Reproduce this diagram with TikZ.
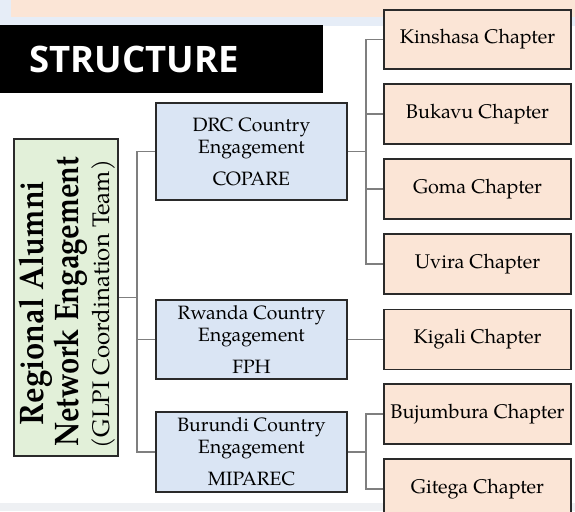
\documentclass[tikz,border=0pt]{standalone}
\usepackage{fontspec}
\setmainfont{TeX Gyre Pagella}
\newfontfamily\titlefont{Open Sans}
\definecolor{gfill}{HTML}{E2F0D9}
\definecolor{bfill}{HTML}{DAE5F4}
\definecolor{pfill}{HTML}{FBE5D6}
\definecolor{edge}{HTML}{2A2A2A}
\definecolor{conn}{HTML}{7F7F7F}
\definecolor{bandblue}{HTML}{E6EDF7}
\definecolor{bandgray}{HTML}{EEF0F3}
\tikzset{
  x=1pt, y=-1pt,
  box/.style={draw=edge, line width=1.8pt, inner sep=0pt, align=center},
  chapbox/.style={box, fill=pfill, minimum width=187pt, minimum height=60pt, font=\fontsize{19.8}{22}\selectfont},
  ctrybox/.style={box, fill=bfill, minimum width=191pt, font=\fontsize{19.3}{22}\selectfont},
  rootline/.style={rotate=90, anchor=base, inner sep=0pt},
  link/.style={draw=conn, line width=1.5pt}
}
\begin{document}
\begin{tikzpicture}
\useasboundingbox (0,0) rectangle (575,511);
\clip (0,0) rectangle (575,511);
% background bands
\fill[bandblue] (0,0) rectangle (575,26);
\fill[pfill] (11,0) rectangle (575,17);
\fill[bandgray] (0,503) rectangle (575,511);
% title
\fill[black] (0,25) rectangle (323,93);
\node[anchor=base west, inner sep=0pt, text=white, font=\titlefont\bfseries\fontsize{36.5}{40}\selectfont] (title) at (29,73) {STRUCTURE};
% root
\node[box, fill=gfill, minimum width=104pt, minimum height=317pt] (root) at (66,297.5) {};
\node[rootline, font=\bfseries\fontsize{34}{36}\selectfont] (rootA) at (43,303) {\scalebox{0.91}[1]{Regional Alumni}};
\node[rootline, font=\bfseries\fontsize{34}{36}\selectfont] (rootB) at (78,301.5) {\scalebox{0.86}[1]{Network Engagement}};
\node[rootline, font=\fontsize{24}{26}\selectfont] (rootC) at (109,304) {(GLPI Coordination Team)};
% countries
\node[ctrybox, minimum height=97pt] (drc) at (251.5,151.5) {DRC Country\\Engagement\\[10pt]COPARE};
\node[ctrybox, minimum height=79pt] (rw) at (251.5,339.5) {Rwanda Country\\Engagement\\[10pt]FPH};
\node[ctrybox, minimum height=80pt] (bu) at (251.5,452) {Burundi Country\\Engagement\\[10pt]MIPAREC};
% chapters
\node[chapbox, minimum height=59pt] (kin) at (477.5,39.5) {Kinshasa Chapter};
\node[chapbox] (buk) at (477.5,114) {Bukavu Chapter};
\node[chapbox] (gom) at (477.5,189) {Goma Chapter};
\node[chapbox] (uvi) at (477.5,264) {Uvira Chapter};
\node[chapbox] (kig) at (477.5,339.5) {Kigali Chapter};
\node[chapbox] (buj) at (477.5,414) {Bujumbura Chapter};
\node[chapbox] (git) at (477.5,489) {Gitega Chapter};
% junctions
\coordinate (j1) at (137,297.5);
\coordinate (j2) at (366,151.5);
\coordinate (j3) at (366,452);
% connectors
\path[link] (root.east) -- (j1);
\path[link] (drc.west) -| (j1);
\path[link] (rw.west) -| (j1);
\path[link] (bu.west) -| (j1);
\path[link] (drc.east) -- (j2);
\path[link] (kin.west) -| (j2);
\path[link] (buk.west) -| (j2);
\path[link] (gom.west) -| (j2);
\path[link] (uvi.west) -| (j2);
\path[link] (rw.east) -- (kig.west);
\path[link] (bu.east) -- (j3);
\path[link] (buj.west) -| (j3);
\path[link] (git.west) -| (j3);
\end{tikzpicture}
\end{document}
